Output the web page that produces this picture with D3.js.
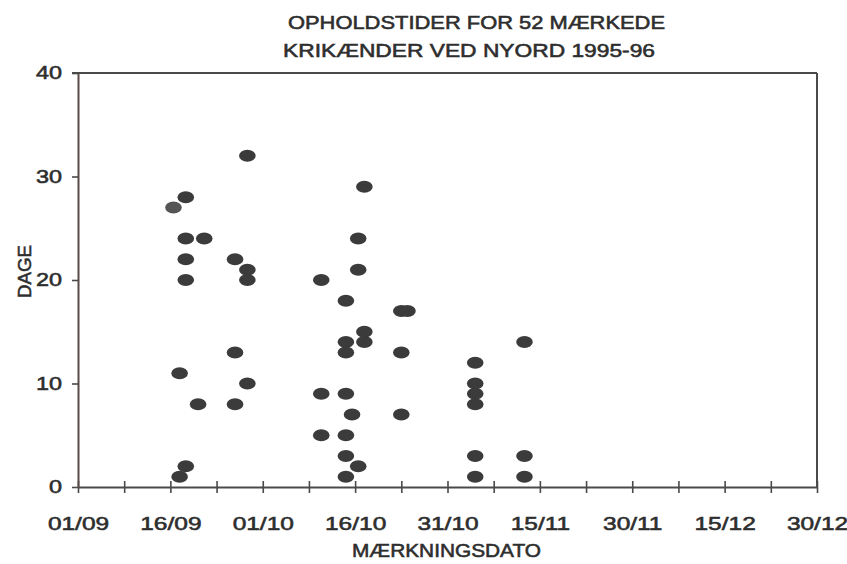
<!DOCTYPE html>
<html>
<head>
<meta charset="utf-8">
<script src="https://cdn.jsdelivr.net/npm/d3@7"></script>
<style>
  html, body { margin: 0; padding: 0; background: #fff; }
  svg { display: block; }
  text { font-family: "Liberation Sans", Arial, Helvetica, sans-serif; fill: #2e2e2e; stroke: #2e2e2e; stroke-width: 0.55px; }
</style>
</head>
<body>
<svg id="chart" width="847" height="564"></svg>
<script>
// ---- data ----
const titleLines = ["OPHOLDSTIDER FOR 52 MÆRKEDE", "KRIKÆNDER VED NYORD 1995-96"];
const xAxisTitle = "MÆRKNINGSDATO";
const yAxisTitle = "DAGE";
const year = 1995;
const xTickLabels = ["01/09", "16/09", "01/10", "16/10", "31/10", "15/11", "30/11", "15/12", "30/12"];
const yTickValues = [0, 10, 20, 30, 40];

// marking date (dd/mm) and days of stay for each duck
const markDates = [
  "16/09",
  "17/09", "17/09",
  "18/09", "18/09", "18/09", "18/09", "18/09",
  "20/09",
  "21/09",
  "26/09", "26/09", "26/09",
  "28/09", "28/09", "28/09", "28/09",
  "10/10", "10/10", "10/10",
  "14/10", "14/10", "14/10", "14/10", "14/10", "14/10", "14/10",
  "15/10",
  "16/10", "16/10", "16/10",
  "17/10", "17/10", "17/10",
  "23/10", "23/10", "23/10",
  "24/10",
  "04/11", "04/11", "04/11", "04/11", "04/11", "04/11",
  "12/11", "12/11", "12/11"
];
const stayDays = [
  27,
  11, 1,
  28, 24, 22, 20, 2,
  8,
  24,
  22, 13, 8,
  32, 21, 20, 10,
  20, 9, 5,
  18, 14, 13, 9, 5, 3, 1,
  7,
  24, 21, 2,
  29, 15, 14,
  17, 13, 7,
  17,
  12, 10, 9, 8, 3, 1,
  14, 3, 1
];

// ---- chart ----
(function () {
const svg = d3.select("#chart");
const parse = s => d3.utcParse("%d/%m/%Y")(s + "/" + year);
const fmt = d3.utcFormat("%d/%m");

const mLeft = 78, mRight = 817, mTop = 73, mBottom = 487;
const majorDates = xTickLabels.map(parse);
const x = d3.scaleUtc().domain(d3.extent(majorDates)).range([mLeft, mRight]);
const y = d3.scaleLinear().domain([0, 40]).range([mBottom, mTop]);

const tickDates = [];
majorDates.forEach((d, i) => {
  tickDates.push(d);
  if (i < majorDates.length - 1) tickDates.push(new Date((+d + +majorDates[i + 1]) / 2));
});
const majorSet = new Set(majorDates.map(d => +d));

const axisColor = "#4a4a4a";

function stretchText(sel, factor) {
  sel.each(function () {
    const w = this.getComputedTextLength();
    if (w > 0) d3.select(this).attr("textLength", w * factor).attr("lengthAdjust", "spacingAndGlyphs");
  });
}

// frame (top and right)
svg.append("line").attr("x1", mLeft - 6).attr("x2", mRight).attr("y1", y(40)).attr("y2", y(40))
  .attr("stroke", axisColor).attr("stroke-width", 2);
svg.append("line").attr("x1", mRight).attr("x2", mRight).attr("y1", y(40)).attr("y2", y(0))
  .attr("stroke", axisColor).attr("stroke-width", 2);

// x axis
const gx = svg.append("g").attr("transform", `translate(0,${y(0)})`)
  .call(d3.axisBottom(x).tickValues(tickDates).tickSizeInner(6).tickSizeOuter(0).tickPadding(24)
    .tickFormat(d => majorSet.has(+d) ? fmt(d) : ""));
gx.select(".domain").attr("stroke", axisColor).attr("stroke-width", 2.2);
gx.selectAll(".tick line").attr("y1", -6).attr("y2", 6).attr("stroke", axisColor).attr("stroke-width", 1.6);
gx.selectAll(".tick text").attr("font-size", 18).attr("fill", "#2e2e2e")
  .style("font-family", '"Liberation Sans", Arial, sans-serif');
stretchText(gx.selectAll(".tick text"), 1.36);

// y axis
const gy = svg.append("g").attr("transform", `translate(${mLeft},0)`)
  .call(d3.axisLeft(y).tickValues(yTickValues).tickSizeInner(6).tickSizeOuter(0).tickPadding(10));
gy.select(".domain").attr("stroke", "#5a4a48").attr("stroke-width", 2);
gy.selectAll(".tick line").attr("stroke", axisColor).attr("stroke-width", 1.6);
gy.selectAll(".tick text").attr("font-size", 18).attr("fill", "#2e2e2e")
  .style("font-family", '"Liberation Sans", Arial, sans-serif');
stretchText(gy.selectAll(".tick text"), 1.3);

// points
const pts = markDates.map((d, i) => ({ date: d3.utcHour.offset(parse(d), 12), v: stayDays[i], i }));
svg.append("g").selectAll("ellipse").data(pts).join("ellipse")
  .attr("cx", d => x(d.date)).attr("cy", d => y(d.v))
  .attr("rx", 8.3).attr("ry", 6)
  .attr("fill", d => d.i === 0 ? "#555" : "#3b3b3b");

// titles
const titleX = [288, 283], titleW = [377, 372];
svg.append("g").selectAll("text").data(titleLines).join("text")
  .attr("x", (d, i) => titleX[i]).attr("y", (d, i) => 29 + i * 28)
  .attr("font-size", 18)
  .attr("textLength", (d, i) => titleW[i]).attr("lengthAdjust", "spacingAndGlyphs")
  .text(d => d);

svg.append("text").attr("x", 352).attr("y", 557)
  .attr("font-size", 18).attr("fill", "#2e3a48").attr("stroke", "#2e3a48")
  .attr("textLength", 189).attr("lengthAdjust", "spacingAndGlyphs")
  .text(xAxisTitle);

svg.append("text").attr("transform", "translate(31,298) rotate(-90)")
  .attr("font-size", 18)
  .attr("textLength", 53).attr("lengthAdjust", "spacingAndGlyphs")
  .text(yAxisTitle);
})();
</script>
</body>
</html>
